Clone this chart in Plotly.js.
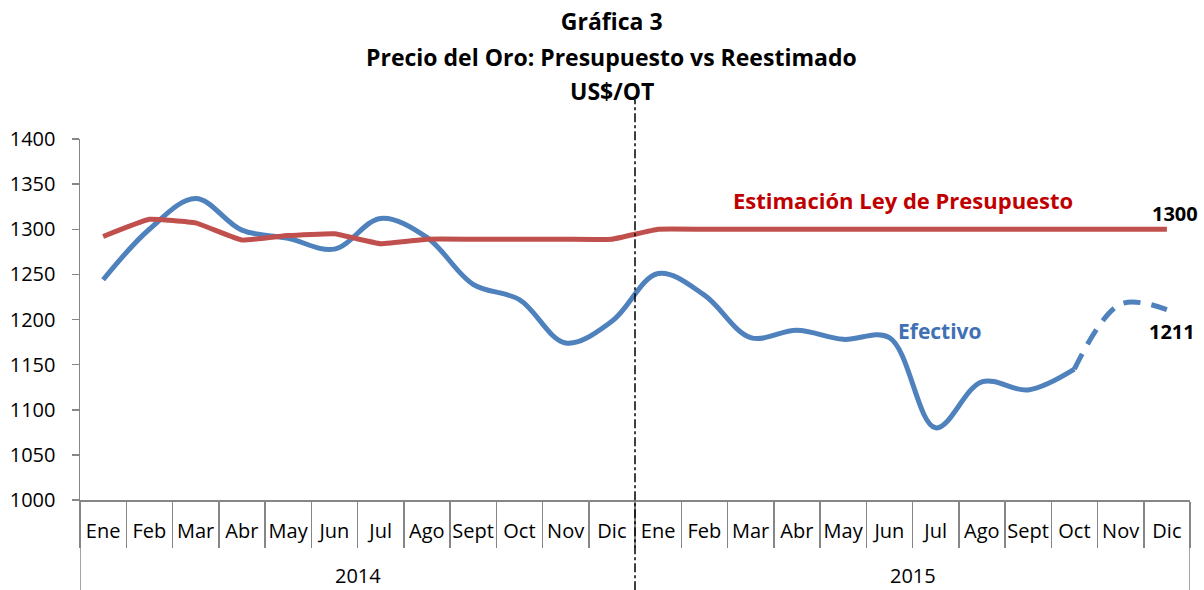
<!DOCTYPE html>
<html>
<head>
<meta charset="utf-8">
<script src="https://cdn.plot.ly/plotly-3.0.1.min.js"></script>
<style>html,body{margin:0;padding:0;background:#fff;}#chart{width:1204px;height:590px;}</style>
</head>
<body>
<div id="chart"></div>
<script>
const months = ["Ene","Feb","Mar","Abr","May","Jun","Jul","Ago","Sept","Oct","Nov","Dic"];
const years = ["2014","2015"];
const efectivo = [1244,1300,1334,1299,1290,1278,1312,1291,1239,1222,1174,1198,
                  1251,1227,1180,1188,1178,1180,1080,1131,1122,1145];
const efectivoProy = [1145,1217,1211];
const presupuesto = [1292,1311,1307,1288,1293,1295,1284,1289,1289,1289,1289,1289,
                     1300,1300,1300,1300,1300,1300,1300,1300,1300,1300,1300,1300];
const yTicks = [1000,1050,1100,1150,1200,1250,1300,1350,1400];
const titleLines = ["Gráfica 3","Precio del Oro: Presupuesto vs Reestimado","US$/OT"];

// category positions (one per month over both years)
const monthLabels = [], idx = [];
years.forEach(y => months.forEach(m => { monthLabels.push(m); idx.push(idx.length); }));
const nCat = idx.length;
const boundaries = [];
for (let i = 0; i <= nCat; i++) boundaries.push(i - 0.5);

const blue = "#4F81BD", red = "#C0504D";
const font = "'Open Sans', Lato, sans-serif";

const traces = [
  {x:idx.slice(0,efectivo.length), y:efectivo,
   type:"scatter", mode:"lines", line:{color:blue,width:5,shape:"spline",smoothing:1}, hoverinfo:"skip"},
  {x:idx.slice(efectivo.length-1), y:efectivoProy,
   type:"scatter", mode:"lines", line:{color:blue,width:5,shape:"spline",smoothing:1,dash:"17px,11px"}, hoverinfo:"skip"},
  {x:idx, y:presupuesto,
   type:"scatter", mode:"lines", line:{color:red,width:5,shape:"spline",smoothing:0.3}, hoverinfo:"skip"}
];

const axisGray = "#868686";
const shapes = [
  {type:"line", xref:"x", yref:"paper", x0:-0.5, x1:-0.5, y0:0, y1:-0.25, line:{color:axisGray,width:1.5}},
  {type:"line", xref:"x", yref:"paper", x0:nCat-0.5, x1:nCat-0.5, y0:0, y1:-0.25, line:{color:axisGray,width:1.5}},
  {type:"line", xref:"x", yref:"paper", x0:11.5, x1:11.5, y0:-0.25, y1:1.11,
   line:{color:"#000", width:1.5, dash:"dashdot"}}
];

const annotations = [
  {text:"<b>"+titleLines[1]+"</b>", xref:"paper", yref:"paper", x:0.479, y:1.227, xanchor:"center", yanchor:"middle",
   showarrow:false, font:{family:font,size:23,color:"#000"}},
  {text:"<b>"+titleLines[2]+"</b>", xref:"paper", yref:"paper", x:0.479, y:1.133, xanchor:"center", yanchor:"middle",
   showarrow:false, font:{family:font,size:23,color:"#000"}},
  {text:"<b>Estimación Ley de Presupuesto</b>", xref:"paper", yref:"paper", x:0.741, y:0.831, xanchor:"center", yanchor:"middle",
   showarrow:false, font:{family:font,size:22,color:"#C00000"}},
  {text:"<b>Efectivo</b>", xref:"paper", yref:"paper", x:0.775, y:0.468, xanchor:"center", yanchor:"middle",
   showarrow:false, font:{family:font,size:21,color:"#3F72B5"}},
  {text:"<b>1300</b>", xref:"paper", yref:"paper", x:0.9865, y:0.795, xanchor:"center", yanchor:"middle",
   showarrow:false, font:{family:font,size:20,color:"#000"}},
  {text:"<b>1211</b>", xref:"paper", yref:"paper", x:0.984, y:0.466, xanchor:"center", yanchor:"middle",
   showarrow:false, font:{family:font,size:20,color:"#000"}}
];
years.forEach((y, k) => annotations.push({
  text:y, xref:"x", yref:"paper", x:k*12+5.5, y:-0.21, xanchor:"center", yanchor:"middle",
  showarrow:false, font:{family:font,size:20,color:"#000"}
}));

const layout = {
  width:1204, height:590,
  margin:{l:80, r:14, t:139, b:90},
  paper_bgcolor:"#fff", plot_bgcolor:"#fff",
  showlegend:false,
  font:{family:font, color:"#000"},
  title:{text:"<b>"+titleLines[0]+"</b>", font:{family:font,size:23,color:"#000"},
         xref:"paper", x:0.479, xanchor:"center", yref:"container", y:1-22/590, yanchor:"middle"},
  xaxis:{range:[-0.5, nCat-0.5], tickmode:"array", tickvals:idx, ticktext:monthLabels,
         ticks:"", ticklabelstandoff:12,
         minor:{tickmode:"array", tickvals:boundaries, ticks:"outside", ticklen:46, tickcolor:axisGray, tickwidth:1.5, showgrid:false},
         showline:true, linecolor:axisGray, linewidth:1.5,
         tickfont:{family:font,size:20,color:"#000"}, showgrid:false, zeroline:false, fixedrange:true},
  yaxis:{range:[1000,1400], tickmode:"array", tickvals:yTicks, ticktext:yTicks.map(String),
         showline:true, linecolor:axisGray, linewidth:1.5,
         ticks:"outside", ticklen:7, tickcolor:axisGray, tickwidth:1.5, ticklabelstandoff:12,
         tickfont:{family:font,size:20,color:"#000"}, showgrid:false, zeroline:false},
  shapes: shapes,
  annotations: annotations
};

Plotly.newPlot("chart", traces, layout, {staticPlot:true, displayModeBar:false});
</script>
</body>
</html>
